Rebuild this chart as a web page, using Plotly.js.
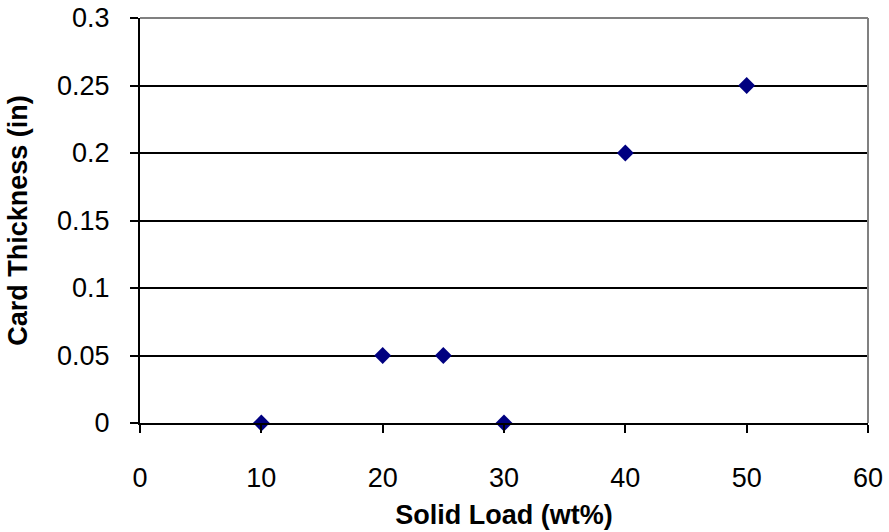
<!DOCTYPE html>
<html><head><meta charset="utf-8">
<script src="https://cdn.plot.ly/plotly-3.0.1.min.js"></script>
<style>html,body{margin:0;padding:0;background:#fff}#c{width:889px;height:532px}</style>
</head><body><div id="c"></div>
<script>
var solidLoad = [10, 20, 25, 30, 40, 50];
var cardThickness = [0, 0.05, 0.05, 0, 0.2, 0.25];
var xTicks = [0, 10, 20, 30, 40, 50, 60];
var yTicks = [0, 0.05, 0.1, 0.15, 0.2, 0.25, 0.3];
var yTickText = ['0', '0.05', '0.1', '0.15', '0.2', '0.25', '0.3'];

var trace = {
  x: solidLoad, y: cardThickness, type: 'scatter', mode: 'markers',
  marker: {symbol: 'diamond', color: '#000080', size: 13, line: {width: 0}},
  cliponaxis: false
};
var layout = {
  width: 889, height: 532,
  margin: {l: 140, r: 21, t: 18, b: 109},
  paper_bgcolor: '#fff', plot_bgcolor: '#fff',
  font: {family: 'Arial, Liberation Sans, sans-serif', size: 27, color: '#000'},
  showlegend: false,
  xaxis: {
    range: [0, 60], tickvals: xTicks, ticktext: xTicks.map(String),
    showgrid: false, zeroline: false, showline: true, linecolor: '#000', linewidth: 2,
    ticks: 'outside', ticklen: 8, tickwidth: 2, tickcolor: '#000',
    tickfont: {size: 27}, ticklabelstandoff: 22, automargin: false,
    title: {text: '<b>Solid Load (wt%)</b>', font: {size: 27}, standoff: 13}
  },
  yaxis: {
    range: [0, 0.3], tickvals: yTicks, ticktext: yTickText,
    showgrid: true, gridcolor: '#000', gridwidth: 2, zeroline: false,
    showline: true, linecolor: '#000', linewidth: 2,
    ticks: 'outside', ticklen: 8, tickwidth: 2, tickcolor: '#000',
    tickfont: {size: 27}, ticklabelstandoff: 15, automargin: false,
    title: {text: '<b>Card Thickness (in)</b>', font: {size: 27}, standoff: 22}
  },
  shapes: [
    {type: 'line', xref: 'paper', yref: 'paper', x0: 0, x1: 1, y0: 1, y1: 1, line: {color: '#808080', width: 2}},
    {type: 'line', xref: 'paper', yref: 'paper', x0: 1, x1: 1, y0: 0, y1: 1, line: {color: '#808080', width: 2}}
  ]
};
Plotly.newPlot('c', [trace], layout, {displayModeBar: false, staticPlot: true});
</script></body></html>
